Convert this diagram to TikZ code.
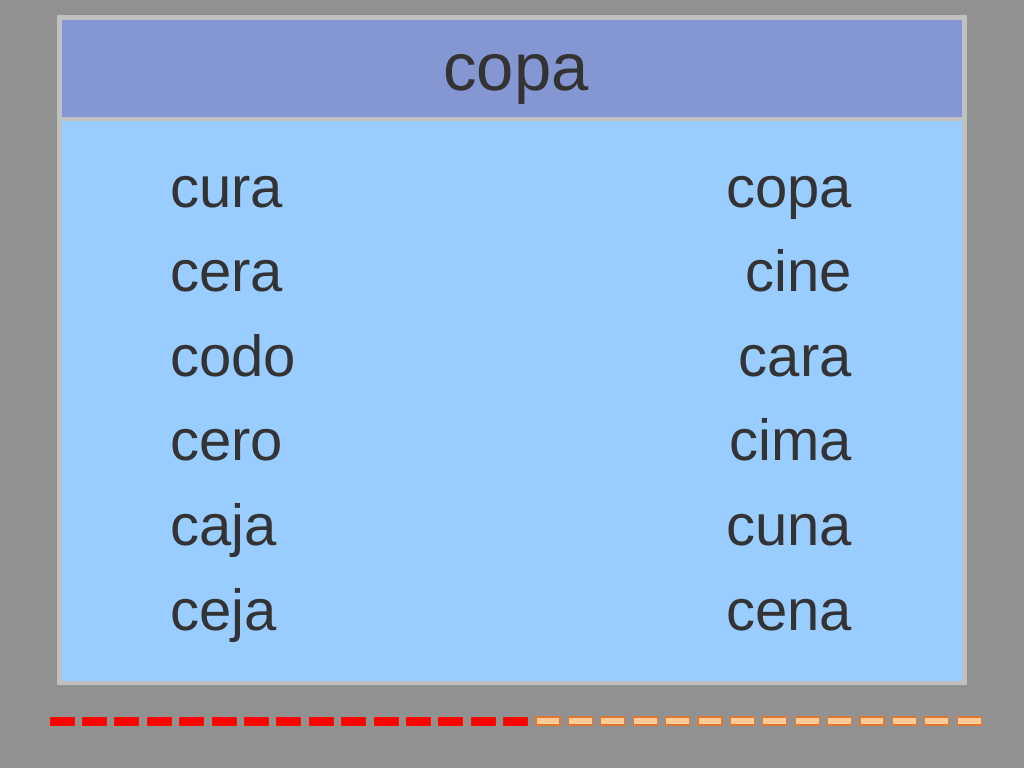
\documentclass[tikz,border=0pt]{standalone}
\usepackage{fontspec}
\setmainfont{Liberation Sans}
\definecolor{slidegray}{RGB}{145,145,145}
\definecolor{framegray}{RGB}{192,192,192}
\definecolor{headblue}{RGB}{132,151,211}
\definecolor{bodyblue}{RGB}{153,204,255}
\definecolor{ink}{RGB}{51,51,51}
\definecolor{peach}{RGB}{255,204,153}
\definecolor{peachedge}{RGB}{224,120,50}
\tikzset{
  word/.style={text=ink, inner sep=0pt, font=\fontsize{58}{70}\selectfont},
  reddash/.style={fill=red, draw=red!90!orange, line width=0.8pt},
  peachdash/.style={fill=peach, draw=peachedge, line width=1.2pt}
}
\begin{document}
\begin{tikzpicture}[x=1pt,y=-1pt]
    \useasboundingbox[fill=slidegray] (0,0) rectangle (1024,768);
    % frame, header and body
    \fill[framegray] (57,15) rectangle (967,685);
    \fill[headblue] (62,20) rectangle (962,117);
    \fill[bodyblue] (62,121) rectangle (962,681);
    \node[word, anchor=base, font=\fontsize{67}{80}\selectfont] (title) at (516,90) {copa};
    % two columns of words
    \foreach \w [count=\i from 0] in {cura,cera,codo,cero,caja,ceja}
    \node[word, anchor=base west] (left\i) at (170,{207+84.6*\i}) {\w};
    \foreach \w [count=\i from 0] in {copa,cine,cara,cima,cuna,cena}
    \node[word, anchor=base east] (right\i) at (852,{207+84.6*\i}) {\w};
    % progress bar
    \foreach \k in {0,...,14}
    \draw[reddash] ({50+32.4*\k},717) rectangle ++(24,8);
    \foreach \k in {15,...,28}
    \draw[peachdash] ({50+32.4*\k},717) rectangle ++(24,8);
\end{tikzpicture}
\end{document}
